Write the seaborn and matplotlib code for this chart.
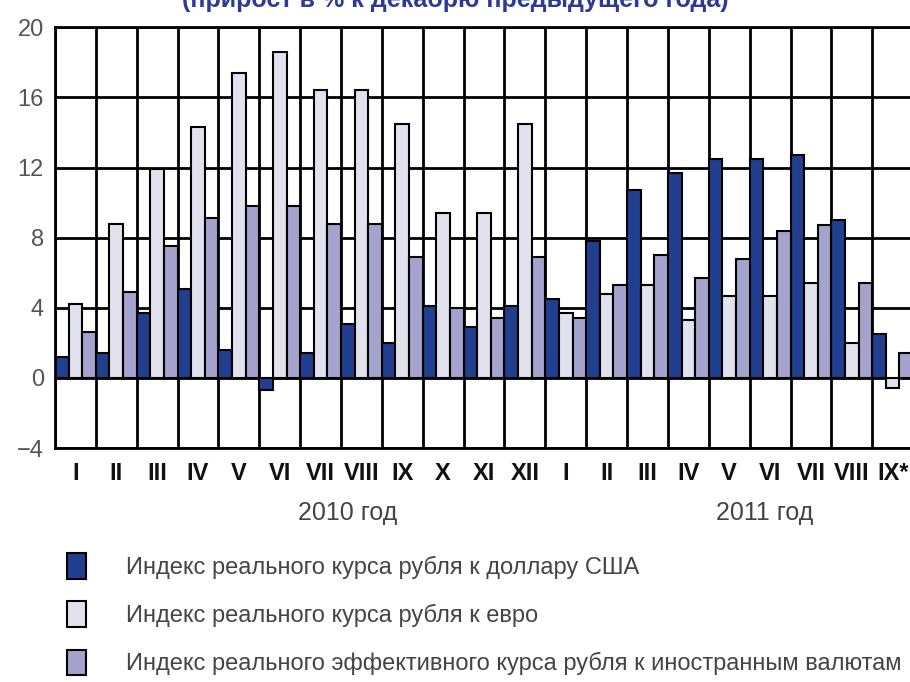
import matplotlib
matplotlib.use('Agg')
import matplotlib.pyplot as plt
import seaborn as sns
import pandas as pd

# months: Jan 2010 .. Sep 2011
months = ['I', 'II', 'III', 'IV', 'V', 'VI', 'VII', 'VIII', 'IX', 'X', 'XI', 'XII',
          'I', 'II', 'III', 'IV', 'V', 'VI', 'VII', 'VIII', 'IX*']
years = ['2010'] * 12 + ['2011'] * 9

usd = [1.2, 1.4, 3.7, 5.1, 1.6, -0.7, 1.4, 3.1, 2.0, 4.1, 2.9, 4.1,
       4.5, 7.8, 10.7, 11.7, 12.5, 12.5, 12.7, 9.0, 2.5]
eur = [4.2, 8.8, 11.9, 14.3, 17.4, 18.6, 16.4, 16.4, 14.5, 9.4, 9.4, 14.5,
       3.7, 4.8, 5.3, 3.3, 4.7, 4.7, 5.4, 2.0, -0.6]
eff = [2.6, 4.9, 7.5, 9.1, 9.8, 9.8, 8.8, 8.8, 6.9, 4.0, 3.4, 6.9,
       3.4, 5.3, 7.0, 5.7, 6.8, 8.4, 8.7, 5.4, 1.4]

series_names = ['Индекс реального курса рубля к доллару США',
                'Индекс реального курса рубля к евро',
                'Индекс реального эффективного курса рубля к иностранным валютам']
colors = ['#223e8e', '#e2e2ee', '#a3a3cd']

keys = [y + '-' + m for y, m in zip(years, months)]
df = pd.DataFrame({
    'month': keys * 3,
    'value': usd + eur + eff,
    'series': [series_names[0]] * 21 + [series_names[1]] * 21 + [series_names[2]] * 21,
})

sns.set_style('white')
plt.rcParams['font.family'] = ['Liberation Sans', 'DejaVu Sans']

fig = plt.figure(figsize=(9.1, 6.82), dpi=100)
ax = fig.add_axes([0.0604, 0.343, 0.943, 0.617])

sns.barplot(data=df, x='month', y='value', hue='series', order=keys,
            hue_order=series_names, palette=colors, saturation=1,
            width=1.0, gap=0, edgecolor='black', linewidth=1.5, ax=ax, legend=False)

ax.set_xlim(-0.5, 20.5)
ax.set_ylim(-4, 20)
ax.set_yticks(range(-4, 21, 4))
ax.set_xticks(range(21))
ax.set_xticks([i - 0.5 for i in range(21)], minor=True)
ax.set_xticklabels(months, fontsize=17, fontweight='bold', color='#111111')
ax.tick_params(axis='x', which='both', length=0, pad=10)
ax.tick_params(axis='y', length=0, labelsize=17, labelcolor='#555555', pad=8)
ax.set_axisbelow(True)
ax.grid(axis='y', which='major', color='black', lw=2)
ax.grid(axis='x', which='minor', color='black', lw=2)
ax.set_xlabel('')
ax.set_ylabel('')
for s in ax.spines.values():
    s.set_color('black')
    s.set_linewidth(2)

fig.text(0.382, 0.248, '2010 год', fontsize=18, color='#444444', ha='center', va='center')
fig.text(0.84, 0.248, '2011 год', fontsize=18, color='#444444', ha='center', va='center')

fig.text(0.5, 1.0, '(прирост в % к декабрю предыдущего года)', fontsize=18,
         fontweight='bold', color='#2b3a98', ha='center', va='center')

handles = [ax.containers[k][0] for k in range(3)]
fig.legend(handles, series_names, loc='upper left', bbox_to_anchor=(0.05, 0.22),
           frameon=False, fontsize=17, labelcolor='#444444',
           handlelength=0.8, handleheight=1.3, handletextpad=1.7, labelspacing=0.95)

fig.savefig('out.png', dpi=100)
